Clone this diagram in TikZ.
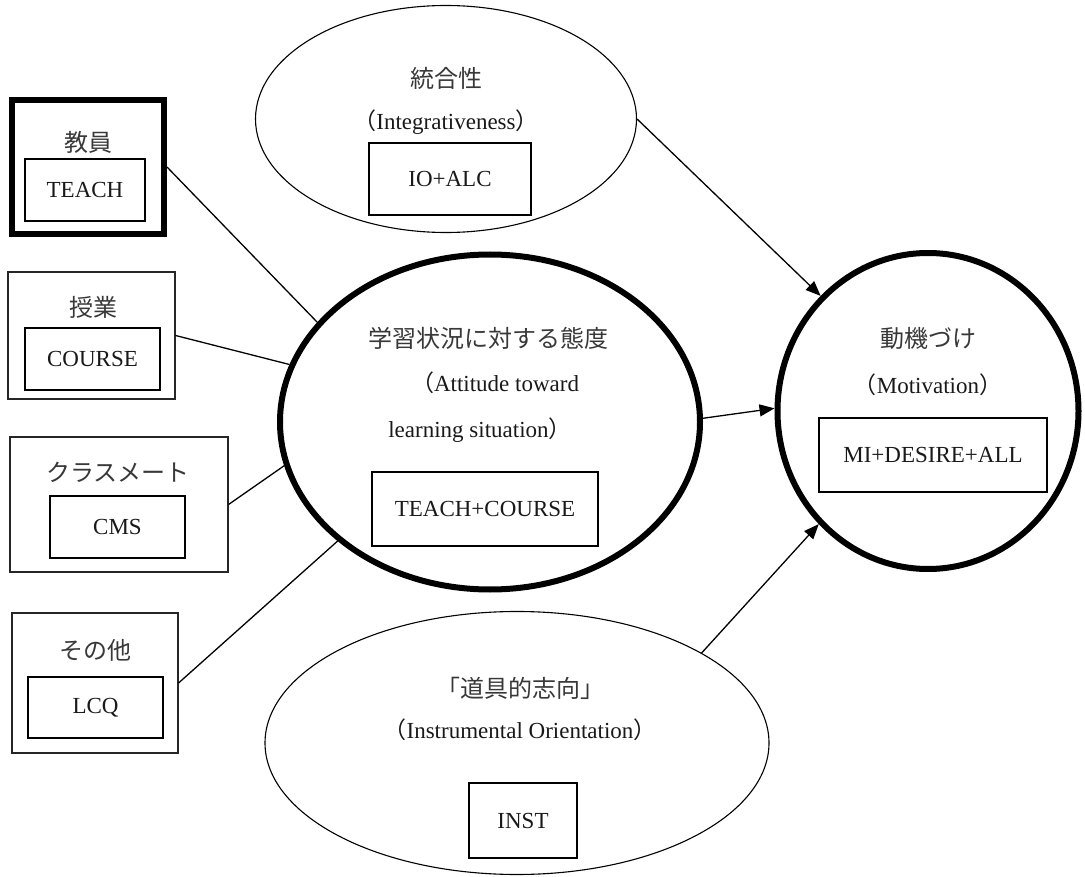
\documentclass[tikz,border=0pt]{standalone}
\usepackage{fontspec}
\setmainfont{Liberation Serif}
\newfontfamily\cjk{Noto Sans CJK JP}
\usetikzlibrary{shapes.geometric,arrows.meta}
\begin{document}
\begin{tikzpicture}[x=1pt,y=-1pt,
  jp/.style={font=\cjk\fontsize{24}{28}\selectfont, inner sep=0pt, text=black!78},
  en/.style={font=\fontsize{23}{28}\selectfont, inner sep=0pt, text=black!90},
  inbox/.style={draw, line width=1.6pt, inner sep=0pt, font=\fontsize{23}{28}\selectfont, text=black!90},
  outbox/.style={draw=black!85, line width=1.1pt, inner sep=0pt},
  thickbox/.style={draw, line width=6pt, inner sep=0pt},
  ell/.style={ellipse, draw, line width=1.1pt, inner sep=0pt},
  thickell/.style={ellipse, draw, line width=6pt, inner sep=0pt},
  link/.style={line width=1.3pt},
  arr/.style={line width=1.3pt, -{Triangle[length=15pt,width=12pt]}}]
\useasboundingbox (0,0) rectangle (1085,877);

% left boxes
\node[thickbox, minimum width=152pt, minimum height=134pt] (b1) at (88,167) {};
\node[jp] (b1l) at (88,142) {教員};
\node[inbox, minimum width=120pt, minimum height=62pt] (b1i) at (85,190) {TEACH};

\node[outbox, minimum width=167pt, minimum height=127pt] (b2) at (91.5,335.5) {};
\node[jp] (b2l) at (93,307) {授業};
\node[inbox, minimum width=135pt, minimum height=62pt] (b2i) at (92.5,359) {COURSE};

\node[outbox, minimum width=218pt, minimum height=135pt] (b3) at (119,504.5) {};
\node[jp] (b3l) at (118,472) {クラスメート};
\node[inbox, minimum width=135pt, minimum height=62pt] (b3i) at (117.5,527) {CMS};

\node[outbox, minimum width=166pt, minimum height=140pt] (b4) at (95,683) {};
\node[jp] (b4l) at (95,650) {その他};
\node[inbox, minimum width=135pt, minimum height=61pt] (b4i) at (95.5,707.5) {LCQ};

% top ellipse
\node[ell, minimum width=381pt, minimum height=227pt] (ie) at (446,119) {};
\node[jp] (iel1) at (446,78) {統合性};
\node[en] (iel2) at (446,122) {{\cjk （}Integrativeness{\cjk ）}};
\node[inbox, minimum width=162pt, minimum height=72pt] (iei) at (450,179) {IO+ALC};

% central ellipse
\node[thickell, minimum width=420pt, minimum height=335pt] (att) at (490,422) {};
\node[jp] (attl1) at (488,338) {学習状況に対する態度};
\node[en] (attl2) at (495,383) {{\cjk （}Attitude toward};
\node[en] (attl3) at (480,430) {learning situation{\cjk ）}};
\node[inbox, minimum width=226pt, minimum height=74pt] (atti) at (485,509) {TEACH+COURSE};

% motivation circle
\node[thickell, minimum width=301pt, minimum height=316pt] (mot) at (928,411) {};
\node[jp] (motl1) at (928,338) {動機づけ};
\node[en] (motl2) at (928,385) {{\cjk （}Motivation{\cjk ）}};
\node[inbox, minimum width=228pt, minimum height=74pt] (moti) at (933,455) {MI+DESIRE+ALL};

% bottom ellipse
\node[ell, minimum width=504pt, minimum height=263pt] (io) at (517,743) {};
\node[jp] (iol1) at (520,688) {「道具的志向」};
\node[en] (iol2) at (520,730) {{\cjk （}Instrumental Orientation{\cjk ）}};
\node[inbox, minimum width=108pt, minimum height=75pt] (ioi) at (523,820.5) {INST};

% connectors
\draw[link] (b1.east) -- (att.150);
\draw[link] (b2.east) -- (att.164);
\draw[link] (b3.east) -- (att.192);
\draw[link] (b4.east) -- (att.218);
\draw[arr] (att.1) -- (mot.179);
\draw[arr] (ie.east) -- (mot.133);
\draw[arr] (io.26) -- (mot.226);
\end{tikzpicture}
\end{document}
